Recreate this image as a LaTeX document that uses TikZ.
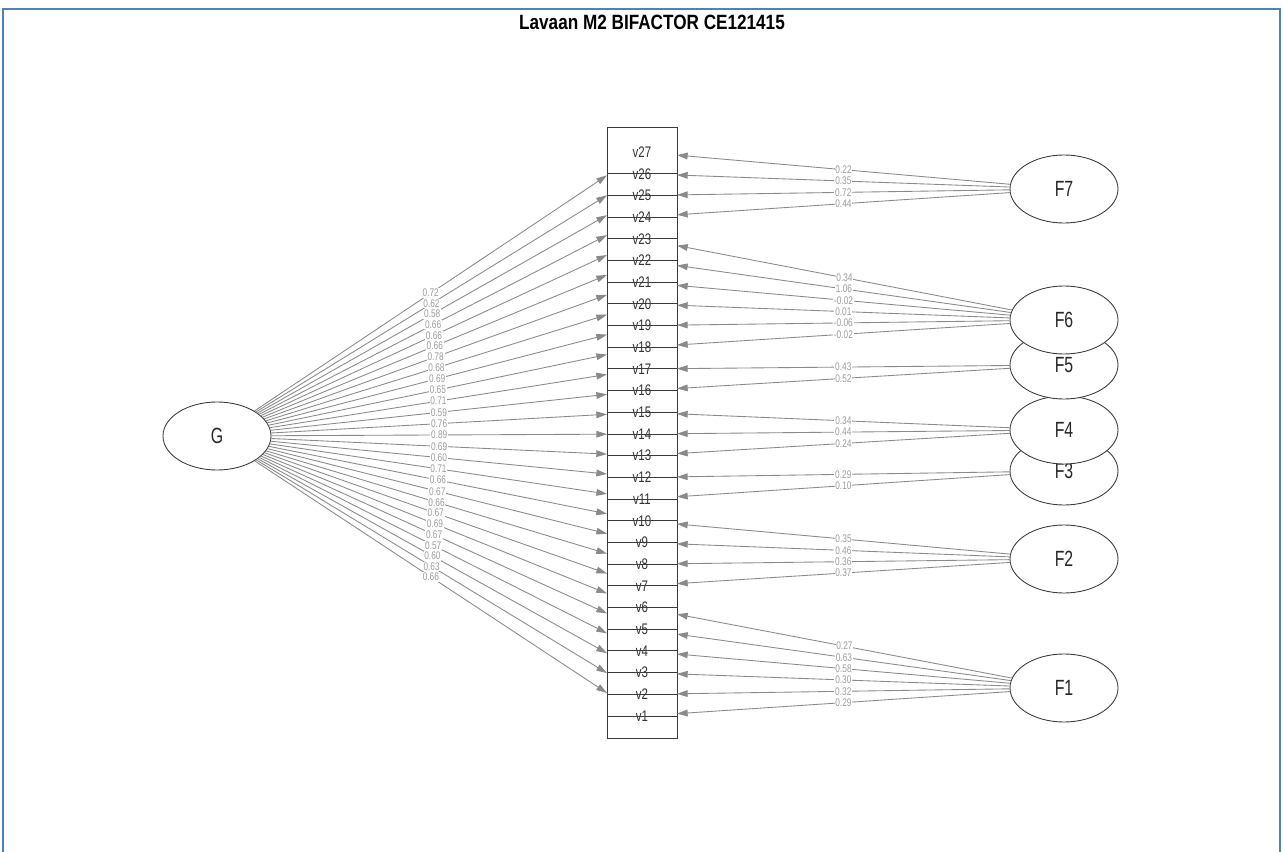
\documentclass[tikz,border=0pt]{standalone}
\usepackage{fontspec}
\setmainfont{Liberation Sans}
\newfontfamily\titlefont{Liberation Sans}[FakeStretch=0.83]
\newfontfamily\narrowfont{Liberation Sans}[FakeStretch=0.75]
\newfontfamily\latentfont{Liberation Sans}[FakeStretch=0.72]
\usetikzlibrary{shapes.geometric,arrows.meta}
\definecolor{frameblue}{HTML}{4F81BD}
\definecolor{edgegray}{HTML}{8A8A8A}
\definecolor{labgray}{HTML}{9C9C9C}
\definecolor{boxdark}{HTML}{3A3A3A}
\tikzset{
  latent/.style={ellipse, draw=boxdark, line width=0.65pt, fill=white, minimum width=81pt, minimum height=51pt, inner sep=0pt,
    font=\latentfont\fontsize{16.5}{19}\selectfont, text=black!85},
  vbox/.style={rectangle, draw=none, minimum width=52.5pt, minimum height=45pt, inner sep=0pt, outer sep=0pt,
    font=\narrowfont\fontsize{11.5}{13}\selectfont, text=black!80},
  load/.style={draw=edgegray, line width=0.65pt, -{Triangle[length=8pt,width=5pt]}},
  lab/.style={font=\narrowfont\fontsize{8.3}{9}\selectfont, text=labgray, fill=white, inner sep=0.6pt},
  boxline/.style={draw=boxdark, line width=0.75pt}
}
\begin{document}
\begin{tikzpicture}[x=0.75pt,y=-0.75pt]
\useasboundingbox (0,0) rectangle (1283,852);
\fill[white] (0,0) rectangle (1283,852);
\draw[frameblue, line width=1.6pt] (3,852) -- (3,9) -- (1280,9) -- (1280,852);
\node[font=\titlefont\bfseries\fontsize{15.5}{18}\selectfont] (title) at (652,22) {Lavaan M2 BIFACTOR CE121415};
% manifest variables
\foreach \k in {1,...,27} {
  \node[vbox] (v\k) at (642,{716-(\k-1)*21.69}) {v\k};
}
\draw[boxline] (607,128) rectangle (677,738);
\foreach \k in {1,...,26} {
  \draw[boxline] (v\k.west) -- (v\k.east);
}
% latent variables
\node[latent] (G) at (217,436) {G};
\node[latent] (F1) at (1064,688) {F1};
\node[latent] (F2) at (1064,559) {F2};
\node[latent] (F3) at (1064,471) {F3};
\node[latent] (F4) at (1064,430) {F4};
\node[latent] (F5) at (1064,365) {F5};
\node[latent] (F6) at (1064,320) {F6};
\node[latent] (F7) at (1064,189) {F7};
% general factor loadings
\foreach \k/\l in {27/0.72, 26/0.62, 25/0.58, 24/0.66, 23/0.66, 22/0.66, 21/0.78, 20/0.68, 19/0.69,
  18/0.65, 17/0.71, 16/0.59, 15/0.76, 14/0.89, 13/0.69, 12/0.60, 11/0.71, 10/0.66, 9/0.67,
  8/0.66, 7/0.67, 6/0.69, 5/0.67, 4/0.57, 3/0.60, 2/0.63, 1/0.66} {
  \draw[load] (G) -- node[lab] {\l} (v\k);
}
% specific factor loadings
\foreach \f/\k/\l in {F7/27/0.22, F7/26/0.35, F7/25/0.72, F7/24/0.44,
  F6/23/0.34, F6/22/1.06, F6/21/-0.02, F6/20/0.01, F6/19/-0.06, F6/18/-0.02,
  F5/17/0.43, F5/16/0.52,
  F4/15/0.34, F4/14/0.44, F4/13/0.24,
  F3/12/0.29, F3/11/0.10,
  F2/10/0.35, F2/9/0.46, F2/8/0.36, F2/7/0.37,
  F1/6/0.27, F1/5/0.63, F1/4/0.58, F1/3/0.30, F1/2/0.32, F1/1/0.29} {
  \draw[load] (\f) -- node[lab] {\l} (v\k);
}
\end{tikzpicture}
\end{document}
